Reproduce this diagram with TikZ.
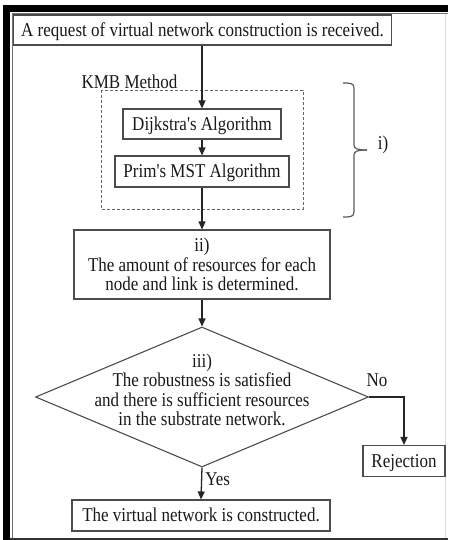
\documentclass[tikz,border=0pt]{standalone}
\usepackage{fontspec}
\setmainfont{Liberation Serif}[Ligatures=TeXOff]
\usepackage{graphicx}
\usetikzlibrary{shapes.geometric,arrows.meta,calc}
\newcommand{\stx}[1]{\raisebox{-2.5pt}[\height][\depth]{\scalebox{1}[1.15]{\setlength{\tabcolsep}{0pt}\begin{tabular}{c}#1\end{tabular}}}}
\begin{document}
\begin{tikzpicture}[x=1pt,y=-1pt,
  font=\fontsize{17}{16.5}\selectfont,
  box/.style={draw=black!70, line width=1.1pt, rectangle, inner sep=0pt, align=center, text=black!90},
  decision/.style={draw=black!70, line width=1.1pt, diamond, inner sep=0pt, minimum width=333pt, minimum height=140pt},
  txt/.style={inner sep=0pt, align=center, text=black!90},
  arr/.style={draw=black!85, line width=1.3pt, -{Triangle[length=8pt,width=7pt]}},
  dashbox/.style={draw=black!60, line width=0.9pt, dash pattern=on 3pt off 2pt},
  brace/.style={draw=black!65, line width=1.2pt}
]
\useasboundingbox (0,0) rectangle (448,540);
% frame
\fill[black] (3,5) rectangle (448,12);
\fill[black] (3,5) rectangle (10,540);
\draw[black!55, line width=0.8pt] (12,540) -- (12,13.5) -- (448,13.5);
\draw[black!80, line width=1.6pt] (10,539) -- (448,539);
\draw[black!15, line width=0.8pt] (445,14) -- (445,538);

% nodes
\node[box, minimum width=378pt, minimum height=30pt] (top) at (202.5,30) {\stx{A request of virtual network construction is received.}};
\node[txt] (kmb) at (129.5,82) {\stx{KMB Method}};
\coordinate (dashtl) at (101,90);
\coordinate (dashbr) at (303,209);
\draw[dashbox] (dashtl) rectangle (dashbr);
\node[box, minimum width=158pt, minimum height=30pt] (dij) at (202,124) {\stx{Dijkstra's Algorithm}};
\node[box, minimum width=174pt, minimum height=31pt] (prim) at (202,171.5) {\stx{Prim's MST Algorithm}};
\node[box, minimum width=256pt, minimum height=69pt] (ii) at (202,264.5) {\stx{ii)\\The amount of resources for each\\node and link is determined.}};
\node[decision] (dec) at (202,397) {};
\node[txt] (dectext) at ($(dec.center)+(0,-7)$) {\stx{iii)\\The robustness is satisfied\\and there is sufficient resources\\in the substrate network.}};
\node[box, minimum width=82pt, minimum height=31pt] (rej) at (404,461) {\stx{Rejection}};
\node[box, minimum width=258pt, minimum height=31pt] (fin) at (201,515.5) {\stx{The virtual network is constructed.}};

% brace
\coordinate (bt) at (343,83);
\coordinate (bm) at (367,150);
\coordinate (bb) at (343,217);
\draw[brace] (bt) .. controls (350,83) and (354,83) .. (354,88) -- (354,145)
  .. controls (354,149) and (358,150) .. (bm);
\draw[brace] (bm) .. controls (358,150) and (354,151) .. (354,155) -- (354,212)
  .. controls (354,217) and (350,217) .. (bb);
\node[txt] (ilabel) at (383,143) {\stx{i)}};

% connectors
\draw[arr] (top.south -| dij.north) -- (dij.north);
\draw[arr] (dij.south) -- (prim.north);
\draw[arr] (prim.south) -- (ii.north);
\draw[arr] (ii.south) -- (dec.north);
\draw[arr] (dec.south) -- node[txt, right=3pt, pos=0.35] (yes) {\stx{Yes}} (fin.north);
\draw[arr] (dec.east) -| (rej.north);
\node[txt] (no) at (377,380) {\stx{No}};
\end{tikzpicture}
\end{document}
